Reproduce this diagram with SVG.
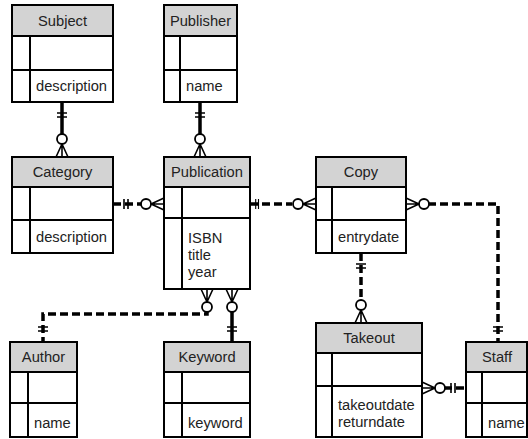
<svg xmlns="http://www.w3.org/2000/svg" xmlns:xlink="http://www.w3.org/1999/xlink" width="528" height="439" viewBox="0 0 528 439">
<style>
.box{fill:#fff;stroke:#000;stroke-width:2}
.hdr{fill:#d3d3d3;stroke:#000;stroke-width:2}
.ln{stroke:#000;stroke-width:2;fill:none}
text{font-family:"Liberation Sans",Arial,sans-serif;font-size:14.7px;fill:#222}
.c{text-anchor:middle}
.con{stroke:#000;stroke-width:3.5;fill:none}
.dash{stroke-dasharray:8 4}
.mk{stroke:#000;stroke-width:1.6;fill:none}
.ci{stroke:#000;stroke-width:1.8;fill:#fff}
</style>
<defs>
<g id="many0">
<path class="mk" d="M13,0 L0,-6 M13,0 L0,0 M13,0 L0,6"/>
<circle class="ci" cx="18" cy="0" r="5"/>
</g>
<g id="one1">
<path class="mk" d="M11,-5 V5 M15,-5 V5"/>
</g>
</defs>

<g id="connectors">
<path class="con" d="M62,102 V134"/>
<path class="con" d="M200,102 V134"/>
<path class="con dash" d="M113,204 H141"/>
<path class="con dash" d="M250,204 H292"/>
<path class="con dash" d="M428,204 H498 V342"/>
<path class="con dash" d="M361,253 V300"/>
<path class="con dash" d="M207,309 V314 H43 V342"/>
<path class="con" d="M232,310 V342"/>
<path class="con dash" d="M444,388 H466"/>

<use xlink:href="#one1" transform="translate(62,102) rotate(90)"/>
<use xlink:href="#many0" transform="translate(62,157) rotate(-90)"/>
<use xlink:href="#one1" transform="translate(200,102) rotate(90)"/>
<use xlink:href="#many0" transform="translate(200,157) rotate(-90)"/>
<use xlink:href="#one1" transform="translate(113,204)"/>
<use xlink:href="#many0" transform="translate(164,204) rotate(180)"/>
<use xlink:href="#one1" transform="translate(248,204) scale(0.7,1)"/>
<use xlink:href="#many0" transform="translate(316,204) rotate(180)"/>
<use xlink:href="#many0" transform="translate(406,204)"/>
<use xlink:href="#one1" transform="translate(498,342) rotate(-90)"/>
<use xlink:href="#one1" transform="translate(361,253) rotate(90)"/>
<use xlink:href="#many0" transform="translate(361,323) rotate(-90)"/>
<use xlink:href="#many0" transform="translate(207,289) rotate(90)"/>
<use xlink:href="#one1" transform="translate(43,342) rotate(-90)"/>
<use xlink:href="#many0" transform="translate(232,289) rotate(90)"/>
<use xlink:href="#one1" transform="translate(232,342) rotate(-90)"/>
<use xlink:href="#many0" transform="translate(422,388)"/>
<use xlink:href="#one1" transform="translate(466,388) rotate(180)"/>
</g>

<g id="Subject">
<rect class="box" x="12" y="5" width="101" height="97"/>
<rect class="hdr" x="12" y="5" width="101" height="31"/>
<path class="ln" d="M12,70 H113 M30,36 V102"/>
<text class="c" x="62.5" y="26">Subject</text>
<text x="36" y="91">description</text>
</g>

<g id="Publisher">
<rect class="box" x="164" y="5" width="73" height="97"/>
<rect class="hdr" x="164" y="5" width="73" height="31"/>
<path class="ln" d="M164,70 H237 M180,36 V102"/>
<text class="c" x="200.5" y="26">Publisher</text>
<text x="186" y="91">name</text>
</g>

<g id="Category">
<rect class="box" x="12" y="157" width="101" height="96"/>
<rect class="hdr" x="12" y="157" width="101" height="30"/>
<path class="ln" d="M12,220 H113 M30,187 V253"/>
<text class="c" x="62.5" y="177">Category</text>
<text x="36" y="242">description</text>
</g>

<g id="Publication">
<rect class="box" x="164" y="157" width="86" height="132"/>
<rect class="hdr" x="164" y="157" width="86" height="30"/>
<path class="ln" d="M164,218 H250 M182,187 V289"/>
<text class="c" x="207" y="177">Publication</text>
<text x="188" y="243">ISBN</text>
<text x="188" y="260">title</text>
<text x="188" y="277">year</text>
</g>

<g id="Copy">
<rect class="box" x="316" y="157" width="90" height="96"/>
<rect class="hdr" x="316" y="157" width="90" height="30"/>
<path class="ln" d="M316,220 H406 M332,187 V253"/>
<text class="c" x="361" y="177">Copy</text>
<text x="338" y="242">entrydate</text>
</g>

<g id="Takeout">
<rect class="box" x="316" y="323" width="106" height="114"/>
<rect class="hdr" x="316" y="323" width="106" height="30"/>
<path class="ln" d="M316,386 H422 M332,353 V437"/>
<text class="c" x="369" y="343">Takeout</text>
<text x="338" y="410">takeoutdate</text>
<text x="338" y="427">returndate</text>
</g>

<g id="Staff">
<rect class="box" x="466" y="342" width="61" height="95"/>
<rect class="hdr" x="466" y="342" width="61" height="30"/>
<path class="ln" d="M466,403 H527 M482,372 V437"/>
<text class="c" x="497" y="362">Staff</text>
<text x="488" y="428">name</text>
</g>

<g id="Author">
<rect class="box" x="10" y="342" width="67" height="95"/>
<rect class="hdr" x="10" y="342" width="67" height="30"/>
<path class="ln" d="M10,403 H77 M28,372 V437"/>
<text class="c" x="43.5" y="362">Author</text>
<text x="34" y="428">name</text>
</g>

<g id="Keyword">
<rect class="box" x="164" y="342" width="86" height="95"/>
<rect class="hdr" x="164" y="342" width="86" height="30"/>
<path class="ln" d="M164,403 H250 M182,372 V437"/>
<text class="c" x="207" y="362">Keyword</text>
<text x="188" y="428">keyword</text>
</g>
</svg>
